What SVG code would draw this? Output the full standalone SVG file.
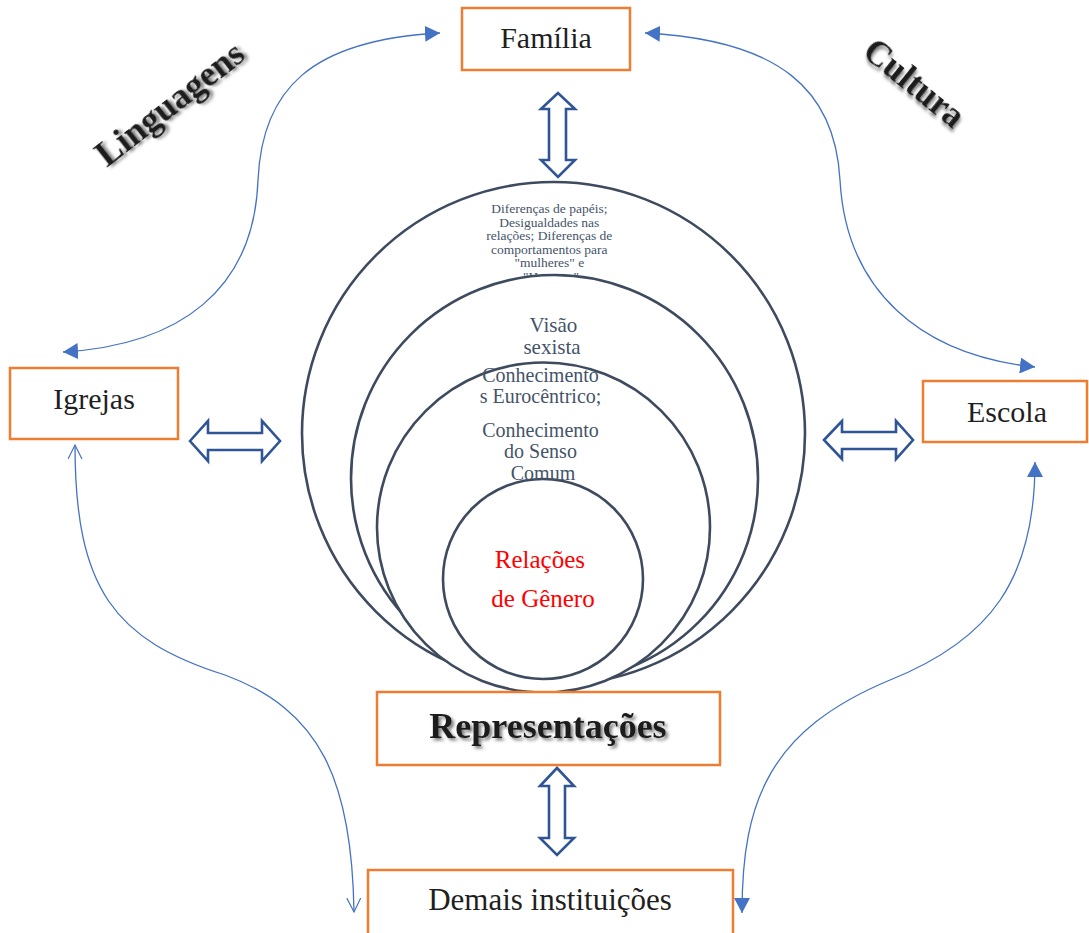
<svg xmlns="http://www.w3.org/2000/svg" width="1089" height="933" viewBox="0 0 1089 933">
  <style>
    .box { fill: #ffffff; stroke: #ED7D31; stroke-width: 2.5; }
    .lbl { font-family: "Liberation Serif", "Times New Roman", serif; fill: #1f1f1f; text-anchor: middle; }
    .ring { fill: #ffffff; stroke: #3E4B5E; stroke-width: 2.6; }
    .rtxt { font-family: "Liberation Serif", "Times New Roman", serif; fill: #44546A; text-anchor: middle; }
    .block { fill: #ffffff; stroke: #2F5597; stroke-width: 2.6; stroke-linejoin: miter; }
    .curve { fill: none; stroke: #4472C4; stroke-width: 1.3; }
    .title { font-family: "Liberation Serif", "Times New Roman", serif; font-weight: bold; fill: #1a1a1a; text-anchor: middle; filter: url(#shadow); }
  </style>
  <defs>
    <filter id="shadow" x="-10%" y="-30%" width="130%" height="160%">
      <feDropShadow dx="2.5" dy="2.5" stdDeviation="1.4" flood-color="#6b6b6b" flood-opacity="0.85"/>
    </filter>
    <marker id="tri" markerUnits="userSpaceOnUse" markerWidth="16" markerHeight="16" refX="15" refY="8" orient="auto-start-reverse">
      <path d="M0,0 L15,8 L0,16 z" fill="#4472C4"/>
    </marker>
    <marker id="vee" markerUnits="userSpaceOnUse" markerWidth="16" markerHeight="16" refX="14" refY="7" orient="auto-start-reverse">
      <path d="M0,0 L14,7 L0,14" fill="none" stroke="#4472C4" stroke-width="1.2"/>
    </marker>
  </defs>

  <!-- Nested circles of representation -->
  <g id="circles">
    <g id="ring-outer">
      <circle class="ring" cx="553.5" cy="433.5" r="251.5"/>
      <text class="rtxt" font-size="13.5">
        <tspan x="551" y="213">Diferenças de papéis;</tspan>
        <tspan x="551" y="227">Desigualdades nas</tspan>
        <tspan x="551" y="240">relações; Diferenças de</tspan>
        <tspan x="551" y="254">comportamentos para</tspan>
        <tspan x="551" y="267">"mulheres" e</tspan>
        <tspan x="551" y="281">"Homens"</tspan>
      </text>
    </g>
    <g id="ring-second">
      <circle class="ring" cx="554.5" cy="478.5" r="203.5"/>
      <text class="rtxt" font-size="21">
        <tspan x="556" y="332">Visão</tspan>
        <tspan x="552" y="354">sexista</tspan>
      </text>
    </g>
    <g id="ring-third">
      <ellipse class="ring" cx="543.5" cy="527.5" rx="166.5" ry="165"/>
    </g>
    <g id="ring-inner">
      <circle class="ring" cx="543" cy="579" r="100"/>
      <text class="rtxt" font-size="20">
        <tspan x="543" y="382">Conhecimento</tspan>
        <tspan x="543" y="403">s Eurocêntrico;</tspan>
        <tspan x="543" y="437">Conhecimento</tspan>
        <tspan x="543" y="458">do Senso</tspan>
        <tspan x="543" y="480">Comum</tspan>
      </text>
      <text class="lbl" font-size="25" style="fill:#FF0000">
        <tspan x="543" y="568">Relações</tspan>
        <tspan x="543" y="607">de Gênero</tspan>
      </text>
    </g>
  </g>

  <!-- Curved connectors and block arrows -->
  <g id="connectors">
    <path class="curve" d="M440,33 C310,40 262,90 258,180 C254,290 180,345 63,352" marker-start="url(#tri)" marker-end="url(#tri)"/>
    <path class="curve" d="M645,33 C780,40 835,90 840,180 C846,290 920,355 1035,367" marker-start="url(#tri)" marker-end="url(#tri)"/>
    <path class="curve" d="M75,445 C75,590 115,640 225,675 C320,710 352,780 354,912" marker-start="url(#vee)" marker-end="url(#vee)"/>
    <path class="curve" d="M1035,462 C1035,580 990,640 890,680 C770,730 742,800 742,913" marker-start="url(#tri)" marker-end="url(#tri)"/>

    <polygon class="block" points="558,93 541,109 549,109 549,160 541,160 558,177 575,160 566,160 566,109 575,109"/>
    <polygon class="block" points="190,441 208,421 208,433 262,433 262,421 280,441 262,461 262,450 208,450 208,461"/>
    <polygon class="block" points="824,440 842,421 842,432 896,432 896,421 913,440 896,459 896,449 842,449 842,459"/>
    <polygon class="block" points="557,768 540,786 549,786 549,838 540,838 557,855 574,838 565,838 565,786 574,786"/>
  </g>

  <!-- Institution boxes -->
  <g id="familia">
    <rect class="box" x="462" y="8" width="168" height="62"/>
    <text class="lbl" x="546" y="48" font-size="30">Família</text>
  </g>
  <g id="igrejas">
    <rect class="box" x="10" y="368" width="168" height="71"/>
    <text class="lbl" x="94" y="409" font-size="30">Igrejas</text>
  </g>
  <g id="escola">
    <rect class="box" x="923" y="381" width="164" height="61"/>
    <text class="lbl" x="1007" y="422" font-size="30">Escola</text>
  </g>
  <g id="representacoes">
    <rect class="box" x="377" y="692" width="343" height="73"/>
    <text class="title" x="548" y="738" font-size="36">Representações</text>
  </g>
  <g id="demais">
    <rect class="box" x="368" y="870" width="365" height="75"/>
    <text class="lbl" x="550" y="910" font-size="31">Demais instituições</text>
  </g>

  <!-- Rotated side headings -->
  <text class="title" font-size="36" transform="translate(177,113) rotate(-38)">Linguagens</text>
  <text class="title" font-size="35" transform="translate(907,92) rotate(39)">Cultura</text>
</svg>
